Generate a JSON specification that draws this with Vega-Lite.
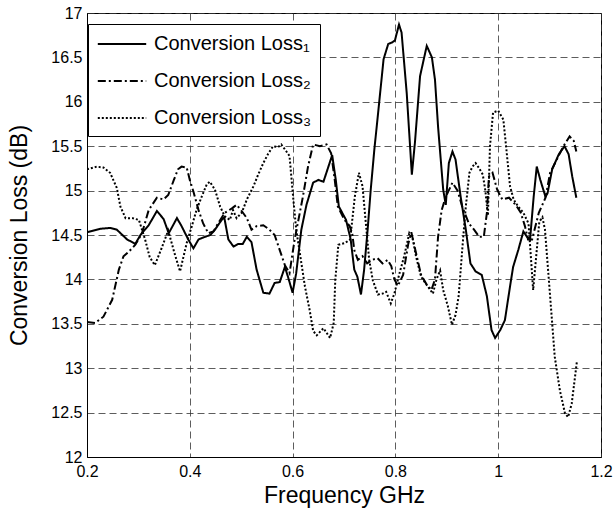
{
  "$schema": "https://vega.github.io/schema/vega-lite/v6.json",
  "width": 514,
  "height": 444,
  "autosize": {"type": "none"},
  "padding": {"left": 87, "top": 13, "right": 14, "bottom": 53},
  "background": "white",
  "config": {
    "font": "Liberation Sans",
    "view": {"stroke": "black", "strokeWidth": 1},
    "axis": {
      "domainColor": "black",
      "grid": true,
      "gridColor": "#333",
      "gridDash": [7, 4],
      "gridWidth": 0.8,
      "gridOpacity": 1,
      "ticks": false,
      "labelColor": "black",
      "titleColor": "black",
      "labelFont": "Liberation Sans",
      "titleFont": "Liberation Sans",
      "labelFontSize": 16,
      "titleFontSize": 23,
      "titleFontWeight": "normal",
      "labelFlush": false
    }
  },
  "datasets": {
    "d": [
      {"f":0.200,"v":14.53,"s":"Conversion Loss₁"},{"f":0.226,"v":14.57,"s":"Conversion Loss₁"},{"f":0.245,"v":14.58,"s":"Conversion Loss₁"},{"f":0.258,"v":14.56,"s":"Conversion Loss₁"},{"f":0.278,"v":14.45,"s":"Conversion Loss₁"},{"f":0.294,"v":14.40,"s":"Conversion Loss₁"},{"f":0.304,"v":14.50,"s":"Conversion Loss₁"},{"f":0.320,"v":14.61,"s":"Conversion Loss₁"},{"f":0.336,"v":14.77,"s":"Conversion Loss₁"},{"f":0.349,"v":14.68,"s":"Conversion Loss₁"},{"f":0.359,"v":14.52,"s":"Conversion Loss₁"},{"f":0.375,"v":14.69,"s":"Conversion Loss₁"},{"f":0.384,"v":14.60,"s":"Conversion Loss₁"},{"f":0.397,"v":14.45,"s":"Conversion Loss₁"},{"f":0.407,"v":14.35,"s":"Conversion Loss₁"},{"f":0.417,"v":14.45,"s":"Conversion Loss₁"},{"f":0.430,"v":14.48,"s":"Conversion Loss₁"},{"f":0.440,"v":14.50,"s":"Conversion Loss₁"},{"f":0.449,"v":14.56,"s":"Conversion Loss₁"},{"f":0.462,"v":14.67,"s":"Conversion Loss₁"},{"f":0.467,"v":14.70,"s":"Conversion Loss₁"},{"f":0.475,"v":14.45,"s":"Conversion Loss₁"},{"f":0.485,"v":14.37,"s":"Conversion Loss₁"},{"f":0.494,"v":14.40,"s":"Conversion Loss₁"},{"f":0.503,"v":14.40,"s":"Conversion Loss₁"},{"f":0.511,"v":14.48,"s":"Conversion Loss₁"},{"f":0.520,"v":14.42,"s":"Conversion Loss₁"},{"f":0.530,"v":14.11,"s":"Conversion Loss₁"},{"f":0.543,"v":13.85,"s":"Conversion Loss₁"},{"f":0.555,"v":13.84,"s":"Conversion Loss₁"},{"f":0.565,"v":13.96,"s":"Conversion Loss₁"},{"f":0.575,"v":13.97,"s":"Conversion Loss₁"},{"f":0.585,"v":14.14,"s":"Conversion Loss₁"},{"f":0.591,"v":14.03,"s":"Conversion Loss₁"},{"f":0.600,"v":13.85,"s":"Conversion Loss₁"},{"f":0.607,"v":14.07,"s":"Conversion Loss₁"},{"f":0.617,"v":14.56,"s":"Conversion Loss₁"},{"f":0.627,"v":14.84,"s":"Conversion Loss₁"},{"f":0.640,"v":15.09,"s":"Conversion Loss₁"},{"f":0.650,"v":15.12,"s":"Conversion Loss₁"},{"f":0.660,"v":15.10,"s":"Conversion Loss₁"},{"f":0.668,"v":15.24,"s":"Conversion Loss₁"},{"f":0.677,"v":15.40,"s":"Conversion Loss₁"},{"f":0.684,"v":15.12,"s":"Conversion Loss₁"},{"f":0.690,"v":14.82,"s":"Conversion Loss₁"},{"f":0.704,"v":14.67,"s":"Conversion Loss₁"},{"f":0.713,"v":14.45,"s":"Conversion Loss₁"},{"f":0.720,"v":14.11,"s":"Conversion Loss₁"},{"f":0.726,"v":14.03,"s":"Conversion Loss₁"},{"f":0.733,"v":13.83,"s":"Conversion Loss₁"},{"f":0.739,"v":14.10,"s":"Conversion Loss₁"},{"f":0.746,"v":14.56,"s":"Conversion Loss₁"},{"f":0.752,"v":15.01,"s":"Conversion Loss₁"},{"f":0.759,"v":15.46,"s":"Conversion Loss₁"},{"f":0.767,"v":15.91,"s":"Conversion Loss₁"},{"f":0.777,"v":16.48,"s":"Conversion Loss₁"},{"f":0.786,"v":16.65,"s":"Conversion Loss₁"},{"f":0.794,"v":16.67,"s":"Conversion Loss₁"},{"f":0.799,"v":16.69,"s":"Conversion Loss₁"},{"f":0.807,"v":16.87,"s":"Conversion Loss₁"},{"f":0.812,"v":16.78,"s":"Conversion Loss₁"},{"f":0.822,"v":16.10,"s":"Conversion Loss₁"},{"f":0.832,"v":15.18,"s":"Conversion Loss₁"},{"f":0.838,"v":15.54,"s":"Conversion Loss₁"},{"f":0.848,"v":16.29,"s":"Conversion Loss₁"},{"f":0.861,"v":16.63,"s":"Conversion Loss₁"},{"f":0.871,"v":16.50,"s":"Conversion Loss₁"},{"f":0.877,"v":16.25,"s":"Conversion Loss₁"},{"f":0.883,"v":15.72,"s":"Conversion Loss₁"},{"f":0.893,"v":15.01,"s":"Conversion Loss₁"},{"f":0.898,"v":14.84,"s":"Conversion Loss₁"},{"f":0.904,"v":15.31,"s":"Conversion Loss₁"},{"f":0.911,"v":15.44,"s":"Conversion Loss₁"},{"f":0.917,"v":15.35,"s":"Conversion Loss₁"},{"f":0.927,"v":14.93,"s":"Conversion Loss₁"},{"f":0.937,"v":14.56,"s":"Conversion Loss₁"},{"f":0.946,"v":14.18,"s":"Conversion Loss₁"},{"f":0.956,"v":14.09,"s":"Conversion Loss₁"},{"f":0.968,"v":14.05,"s":"Conversion Loss₁"},{"f":0.978,"v":13.81,"s":"Conversion Loss₁"},{"f":0.987,"v":13.43,"s":"Conversion Loss₁"},{"f":0.994,"v":13.34,"s":"Conversion Loss₁"},{"f":1.004,"v":13.43,"s":"Conversion Loss₁"},{"f":1.013,"v":13.54,"s":"Conversion Loss₁"},{"f":1.023,"v":13.92,"s":"Conversion Loss₁"},{"f":1.029,"v":14.14,"s":"Conversion Loss₁"},{"f":1.039,"v":14.33,"s":"Conversion Loss₁"},{"f":1.049,"v":14.54,"s":"Conversion Loss₁"},{"f":1.056,"v":14.48,"s":"Conversion Loss₁"},{"f":1.062,"v":14.45,"s":"Conversion Loss₁"},{"f":1.069,"v":14.93,"s":"Conversion Loss₁"},{"f":1.075,"v":15.27,"s":"Conversion Loss₁"},{"f":1.082,"v":15.12,"s":"Conversion Loss₁"},{"f":1.092,"v":14.93,"s":"Conversion Loss₁"},{"f":1.096,"v":14.97,"s":"Conversion Loss₁"},{"f":1.105,"v":15.24,"s":"Conversion Loss₁"},{"f":1.118,"v":15.41,"s":"Conversion Loss₁"},{"f":1.129,"v":15.50,"s":"Conversion Loss₁"},{"f":1.137,"v":15.41,"s":"Conversion Loss₁"},{"f":1.144,"v":15.16,"s":"Conversion Loss₁"},{"f":1.152,"v":14.92,"s":"Conversion Loss₁"},

      {"f":0.200,"v":13.52,"s":"Conversion Loss₂"},{"f":0.216,"v":13.51,"s":"Conversion Loss₂"},{"f":0.232,"v":13.58,"s":"Conversion Loss₂"},{"f":0.249,"v":13.77,"s":"Conversion Loss₂"},{"f":0.262,"v":14.11,"s":"Conversion Loss₂"},{"f":0.271,"v":14.26,"s":"Conversion Loss₂"},{"f":0.281,"v":14.31,"s":"Conversion Loss₂"},{"f":0.294,"v":14.39,"s":"Conversion Loss₂"},{"f":0.307,"v":14.52,"s":"Conversion Loss₂"},{"f":0.320,"v":14.78,"s":"Conversion Loss₂"},{"f":0.336,"v":14.92,"s":"Conversion Loss₂"},{"f":0.349,"v":14.90,"s":"Conversion Loss₂"},{"f":0.358,"v":14.95,"s":"Conversion Loss₂"},{"f":0.369,"v":15.12,"s":"Conversion Loss₂"},{"f":0.377,"v":15.24,"s":"Conversion Loss₂"},{"f":0.384,"v":15.27,"s":"Conversion Loss₂"},{"f":0.394,"v":15.26,"s":"Conversion Loss₂"},{"f":0.400,"v":15.12,"s":"Conversion Loss₂"},{"f":0.407,"v":14.99,"s":"Conversion Loss₂"},{"f":0.417,"v":14.78,"s":"Conversion Loss₂"},{"f":0.426,"v":14.63,"s":"Conversion Loss₂"},{"f":0.436,"v":14.52,"s":"Conversion Loss₂"},{"f":0.446,"v":14.54,"s":"Conversion Loss₂"},{"f":0.455,"v":14.63,"s":"Conversion Loss₂"},{"f":0.468,"v":14.75,"s":"Conversion Loss₂"},{"f":0.482,"v":14.80,"s":"Conversion Loss₂"},{"f":0.491,"v":14.84,"s":"Conversion Loss₂"},{"f":0.501,"v":14.77,"s":"Conversion Loss₂"},{"f":0.511,"v":14.69,"s":"Conversion Loss₂"},{"f":0.520,"v":14.56,"s":"Conversion Loss₂"},{"f":0.530,"v":14.60,"s":"Conversion Loss₂"},{"f":0.543,"v":14.61,"s":"Conversion Loss₂"},{"f":0.555,"v":14.56,"s":"Conversion Loss₂"},{"f":0.565,"v":14.50,"s":"Conversion Loss₂"},{"f":0.575,"v":14.33,"s":"Conversion Loss₂"},{"f":0.585,"v":14.16,"s":"Conversion Loss₂"},{"f":0.594,"v":14.07,"s":"Conversion Loss₂"},{"f":0.604,"v":14.45,"s":"Conversion Loss₂"},{"f":0.610,"v":14.63,"s":"Conversion Loss₂"},{"f":0.620,"v":14.93,"s":"Conversion Loss₂"},{"f":0.630,"v":15.27,"s":"Conversion Loss₂"},{"f":0.640,"v":15.52,"s":"Conversion Loss₂"},{"f":0.653,"v":15.50,"s":"Conversion Loss₂"},{"f":0.666,"v":15.52,"s":"Conversion Loss₂"},{"f":0.675,"v":15.42,"s":"Conversion Loss₂"},{"f":0.682,"v":15.12,"s":"Conversion Loss₂"},{"f":0.688,"v":14.82,"s":"Conversion Loss₂"},{"f":0.701,"v":14.67,"s":"Conversion Loss₂"},{"f":0.711,"v":14.60,"s":"Conversion Loss₂"},{"f":0.716,"v":14.52,"s":"Conversion Loss₂"},{"f":0.720,"v":14.33,"s":"Conversion Loss₂"},{"f":0.727,"v":14.22,"s":"Conversion Loss₂"},{"f":0.736,"v":14.26,"s":"Conversion Loss₂"},{"f":0.745,"v":14.18,"s":"Conversion Loss₂"},{"f":0.755,"v":14.22,"s":"Conversion Loss₂"},{"f":0.765,"v":14.24,"s":"Conversion Loss₂"},{"f":0.775,"v":14.18,"s":"Conversion Loss₂"},{"f":0.785,"v":14.22,"s":"Conversion Loss₂"},{"f":0.792,"v":14.15,"s":"Conversion Loss₂"},{"f":0.798,"v":14.00,"s":"Conversion Loss₂"},{"f":0.805,"v":13.93,"s":"Conversion Loss₂"},{"f":0.815,"v":14.05,"s":"Conversion Loss₂"},{"f":0.825,"v":14.40,"s":"Conversion Loss₂"},{"f":0.831,"v":14.53,"s":"Conversion Loss₂"},{"f":0.840,"v":14.30,"s":"Conversion Loss₂"},{"f":0.850,"v":14.05,"s":"Conversion Loss₂"},{"f":0.860,"v":13.95,"s":"Conversion Loss₂"},{"f":0.870,"v":13.88,"s":"Conversion Loss₂"},{"f":0.877,"v":14.00,"s":"Conversion Loss₂"},{"f":0.883,"v":14.48,"s":"Conversion Loss₂"},{"f":0.890,"v":14.78,"s":"Conversion Loss₂"},{"f":0.898,"v":14.93,"s":"Conversion Loss₂"},{"f":0.911,"v":15.09,"s":"Conversion Loss₂"},{"f":0.921,"v":15.00,"s":"Conversion Loss₂"},{"f":0.930,"v":14.82,"s":"Conversion Loss₂"},{"f":0.943,"v":14.63,"s":"Conversion Loss₂"},{"f":0.953,"v":14.56,"s":"Conversion Loss₂"},{"f":0.963,"v":14.48,"s":"Conversion Loss₂"},{"f":0.972,"v":14.48,"s":"Conversion Loss₂"},{"f":0.978,"v":14.75,"s":"Conversion Loss₂"},{"f":0.982,"v":15.16,"s":"Conversion Loss₂"},{"f":0.989,"v":15.20,"s":"Conversion Loss₂"},{"f":0.998,"v":15.01,"s":"Conversion Loss₂"},{"f":1.008,"v":14.90,"s":"Conversion Loss₂"},{"f":1.021,"v":14.92,"s":"Conversion Loss₂"},{"f":1.034,"v":14.84,"s":"Conversion Loss₂"},{"f":1.044,"v":14.75,"s":"Conversion Loss₂"},{"f":1.052,"v":14.60,"s":"Conversion Loss₂"},{"f":1.058,"v":14.45,"s":"Conversion Loss₂"},{"f":1.066,"v":14.45,"s":"Conversion Loss₂"},{"f":1.079,"v":14.75,"s":"Conversion Loss₂"},{"f":1.092,"v":14.92,"s":"Conversion Loss₂"},{"f":1.101,"v":15.20,"s":"Conversion Loss₂"},{"f":1.114,"v":15.35,"s":"Conversion Loss₂"},{"f":1.127,"v":15.50,"s":"Conversion Loss₂"},{"f":1.139,"v":15.61,"s":"Conversion Loss₂"},{"f":1.147,"v":15.56,"s":"Conversion Loss₂"},{"f":1.152,"v":15.44,"s":"Conversion Loss₂"},

      {"f":0.200,"v":15.24,"s":"Conversion Loss₃"},{"f":0.219,"v":15.27,"s":"Conversion Loss₃"},{"f":0.232,"v":15.26,"s":"Conversion Loss₃"},{"f":0.245,"v":15.20,"s":"Conversion Loss₃"},{"f":0.258,"v":15.03,"s":"Conversion Loss₃"},{"f":0.265,"v":14.82,"s":"Conversion Loss₃"},{"f":0.275,"v":14.69,"s":"Conversion Loss₃"},{"f":0.288,"v":14.69,"s":"Conversion Loss₃"},{"f":0.301,"v":14.67,"s":"Conversion Loss₃"},{"f":0.313,"v":14.45,"s":"Conversion Loss₃"},{"f":0.322,"v":14.25,"s":"Conversion Loss₃"},{"f":0.332,"v":14.16,"s":"Conversion Loss₃"},{"f":0.345,"v":14.35,"s":"Conversion Loss₃"},{"f":0.358,"v":14.55,"s":"Conversion Loss₃"},{"f":0.370,"v":14.30,"s":"Conversion Loss₃"},{"f":0.381,"v":14.09,"s":"Conversion Loss₃"},{"f":0.394,"v":14.41,"s":"Conversion Loss₃"},{"f":0.404,"v":14.60,"s":"Conversion Loss₃"},{"f":0.413,"v":14.78,"s":"Conversion Loss₃"},{"f":0.423,"v":14.93,"s":"Conversion Loss₃"},{"f":0.433,"v":15.07,"s":"Conversion Loss₃"},{"f":0.439,"v":15.10,"s":"Conversion Loss₃"},{"f":0.449,"v":15.01,"s":"Conversion Loss₃"},{"f":0.459,"v":14.82,"s":"Conversion Loss₃"},{"f":0.468,"v":14.71,"s":"Conversion Loss₃"},{"f":0.478,"v":14.67,"s":"Conversion Loss₃"},{"f":0.484,"v":14.78,"s":"Conversion Loss₃"},{"f":0.491,"v":14.69,"s":"Conversion Loss₃"},{"f":0.501,"v":14.75,"s":"Conversion Loss₃"},{"f":0.511,"v":14.90,"s":"Conversion Loss₃"},{"f":0.524,"v":15.05,"s":"Conversion Loss₃"},{"f":0.533,"v":15.18,"s":"Conversion Loss₃"},{"f":0.543,"v":15.31,"s":"Conversion Loss₃"},{"f":0.552,"v":15.41,"s":"Conversion Loss₃"},{"f":0.562,"v":15.50,"s":"Conversion Loss₃"},{"f":0.572,"v":15.49,"s":"Conversion Loss₃"},{"f":0.578,"v":15.52,"s":"Conversion Loss₃"},{"f":0.588,"v":15.44,"s":"Conversion Loss₃"},{"f":0.594,"v":15.39,"s":"Conversion Loss₃"},{"f":0.601,"v":14.93,"s":"Conversion Loss₃"},{"f":0.607,"v":14.56,"s":"Conversion Loss₃"},{"f":0.614,"v":14.30,"s":"Conversion Loss₃"},{"f":0.624,"v":13.92,"s":"Conversion Loss₃"},{"f":0.633,"v":13.66,"s":"Conversion Loss₃"},{"f":0.640,"v":13.42,"s":"Conversion Loss₃"},{"f":0.647,"v":13.37,"s":"Conversion Loss₃"},{"f":0.660,"v":13.45,"s":"Conversion Loss₃"},{"f":0.673,"v":13.34,"s":"Conversion Loss₃"},{"f":0.680,"v":13.51,"s":"Conversion Loss₃"},{"f":0.683,"v":13.99,"s":"Conversion Loss₃"},{"f":0.689,"v":14.39,"s":"Conversion Loss₃"},{"f":0.702,"v":14.41,"s":"Conversion Loss₃"},{"f":0.712,"v":14.45,"s":"Conversion Loss₃"},{"f":0.721,"v":14.93,"s":"Conversion Loss₃"},{"f":0.729,"v":15.20,"s":"Conversion Loss₃"},{"f":0.736,"v":15.05,"s":"Conversion Loss₃"},{"f":0.743,"v":14.60,"s":"Conversion Loss₃"},{"f":0.749,"v":14.22,"s":"Conversion Loss₃"},{"f":0.756,"v":13.99,"s":"Conversion Loss₃"},{"f":0.766,"v":13.83,"s":"Conversion Loss₃"},{"f":0.775,"v":13.84,"s":"Conversion Loss₃"},{"f":0.782,"v":13.86,"s":"Conversion Loss₃"},{"f":0.791,"v":13.73,"s":"Conversion Loss₃"},{"f":0.798,"v":13.84,"s":"Conversion Loss₃"},{"f":0.808,"v":14.07,"s":"Conversion Loss₃"},{"f":0.817,"v":14.26,"s":"Conversion Loss₃"},{"f":0.827,"v":14.52,"s":"Conversion Loss₃"},{"f":0.834,"v":14.45,"s":"Conversion Loss₃"},{"f":0.840,"v":14.26,"s":"Conversion Loss₃"},{"f":0.850,"v":14.03,"s":"Conversion Loss₃"},{"f":0.863,"v":13.92,"s":"Conversion Loss₃"},{"f":0.873,"v":13.84,"s":"Conversion Loss₃"},{"f":0.880,"v":14.00,"s":"Conversion Loss₃"},{"f":0.887,"v":14.10,"s":"Conversion Loss₃"},{"f":0.893,"v":13.88,"s":"Conversion Loss₃"},{"f":0.902,"v":13.70,"s":"Conversion Loss₃"},{"f":0.910,"v":13.49,"s":"Conversion Loss₃"},{"f":0.917,"v":13.60,"s":"Conversion Loss₃"},{"f":0.923,"v":13.81,"s":"Conversion Loss₃"},{"f":0.932,"v":14.48,"s":"Conversion Loss₃"},{"f":0.937,"v":14.82,"s":"Conversion Loss₃"},{"f":0.944,"v":15.20,"s":"Conversion Loss₃"},{"f":0.950,"v":15.27,"s":"Conversion Loss₃"},{"f":0.956,"v":15.31,"s":"Conversion Loss₃"},{"f":0.963,"v":15.25,"s":"Conversion Loss₃"},{"f":0.970,"v":15.18,"s":"Conversion Loss₃"},{"f":0.975,"v":15.00,"s":"Conversion Loss₃"},{"f":0.980,"v":14.72,"s":"Conversion Loss₃"},{"f":0.984,"v":15.50,"s":"Conversion Loss₃"},{"f":0.990,"v":15.88,"s":"Conversion Loss₃"},{"f":1.000,"v":15.90,"s":"Conversion Loss₃"},{"f":1.010,"v":15.80,"s":"Conversion Loss₃"},{"f":1.016,"v":15.46,"s":"Conversion Loss₃"},{"f":1.023,"v":15.05,"s":"Conversion Loss₃"},{"f":1.030,"v":14.90,"s":"Conversion Loss₃"},{"f":1.039,"v":14.82,"s":"Conversion Loss₃"},{"f":1.049,"v":14.75,"s":"Conversion Loss₃"},{"f":1.059,"v":14.63,"s":"Conversion Loss₃"},{"f":1.063,"v":14.30,"s":"Conversion Loss₃"},{"f":1.068,"v":13.88,"s":"Conversion Loss₃"},{"f":1.073,"v":14.20,"s":"Conversion Loss₃"},{"f":1.080,"v":14.65,"s":"Conversion Loss₃"},{"f":1.086,"v":14.70,"s":"Conversion Loss₃"},{"f":1.091,"v":14.56,"s":"Conversion Loss₃"},{"f":1.101,"v":13.81,"s":"Conversion Loss₃"},{"f":1.110,"v":13.13,"s":"Conversion Loss₃"},{"f":1.120,"v":12.75,"s":"Conversion Loss₃"},{"f":1.130,"v":12.49,"s":"Conversion Loss₃"},{"f":1.136,"v":12.45,"s":"Conversion Loss₃"},{"f":1.143,"v":12.60,"s":"Conversion Loss₃"},{"f":1.153,"v":13.07,"s":"Conversion Loss₃"}
    ]
  },
  "data": {"name": "d"},
  "mark": {"type": "line", "color": "black", "strokeWidth": 2, "clip": true},
  "encoding": {
    "x": {
      "field": "f", "type": "quantitative",
      "scale": {"domain": [0.2, 1.2], "nice": false, "zero": false},
      "axis": {
        "title": "Frequency GHz",
        "values": [0.2, 0.4, 0.6, 0.8, 1.0, 1.2],
        "labelExpr": "format(datum.value, '~g')",
        "labelPadding": 6,
        "titleX": 257, "titleY": 45, "titleBaseline": "alphabetic", "titleAnchor": null
      }
    },
    "y": {
      "field": "v", "type": "quantitative",
      "scale": {"domain": [12, 17], "nice": false, "zero": false},
      "axis": {
        "title": "Conversion Loss (dB)",
        "values": [12, 12.5, 13, 13.5, 14, 14.5, 15, 15.5, 16, 16.5, 17],
        "labelExpr": "format(datum.value, '~g')",
        "labelPadding": 5,
        "titleX": -61, "titleY": 222, "titleAngle": -90, "titleBaseline": "alphabetic", "titleAlign": "center"
      }
    },
    "strokeDash": {
      "field": "s", "type": "nominal",
      "scale": {
        "domain": ["Conversion Loss₁", "Conversion Loss₂", "Conversion Loss₃"],
        "range": [[1, 0], [8, 3, 2, 3], [2, 2]]
      },
      "legend": {
        "title": null,
        "orient": "none",
        "legendX": 1,
        "legendY": 11,
        "symbolType": "M-2.2,0L2.2,0",
        "symbolSize": 484,
        "symbolOffset": 14,
        "symbolStrokeWidth": 2,
        "symbolStrokeColor": "black",
        "labelFontSize": 20,
        "labelFont": "Liberation Sans",
        "labelColor": "black",
        "labelOffset": 20,
        "rowPadding": 15,
        "padding": 8,
        "strokeColor": "black",
        "fillColor": "white",
        "labelLimit": 300
      }
    }
  }
}
